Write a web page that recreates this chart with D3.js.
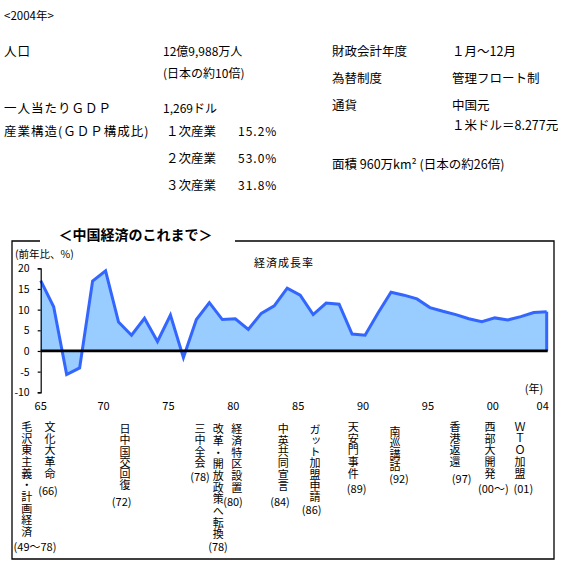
<!DOCTYPE html>
<html><head><meta charset="utf-8">
<script src="https://cdn.jsdelivr.net/npm/d3@7"></script>
<style>
body{margin:0;background:#fff;}
text{font-family:"Noto Sans CJK JP","Noto Sans",sans-serif;fill:#000;}
.vt{writing-mode:vertical-rl;text-orientation:upright;}
</style></head><body>
<svg id="c" width="579" height="573"></svg>
<script>
// ---- data ----
const years = [1965,1966,1967,1968,1969,1970,1971,1972,1973,1974,1975,1976,1977,1978,1979,1980,1981,1982,1983,1984,
               1985,1986,1987,1988,1989,1990,1991,1992,1993,1994,1995,1996,1997,1998,1999,2000,2001,2002,2003,2004];
const growth = [17.0,10.7,-5.7,-4.1,16.9,19.4,7.0,3.8,7.9,2.3,8.7,-1.6,7.6,11.7,7.6,7.8,5.2,9.1,10.9,15.2,
                13.5,8.8,11.6,11.3,4.1,3.8,9.2,14.2,13.5,12.6,10.5,9.6,8.8,7.8,7.1,8.0,7.5,8.3,9.3,9.5];
const yTicks = [-10,-5,0,5,10,15,20];
const xTickYears = [1965,1970,1975,1980,1985,1990,1995,2000,2004];
const xTickLabels = ["65","70","75","80","85","90","95","00","04"];

const events = ["毛沢東主義・計画経済","文化大革命","日中国交回復","三中全会","改革・開放政策へ転換","経済特区設置",
                "中英共同宣言","ガット加盟申請","天安門事件","南巡講話","香港返還","西部大開発","ＷＴＯ加盟"];
const eventDates = ["(49～78)","(66)","(72)","(78)","(78)","(80)","(84)","(86)","(89)","(92)","(97)","(00～)","(01)"];

const leftFacts = [["人口","12億9,988万人"],["","(日本の約10倍)"],["一人当たりＧＤＰ","1,269ドル"],["産業構造(ＧＤＰ構成比)",""]];
const industries = ["１次産業","２次産業","３次産業"];
const industryShares = ["15.2%","53.0%","31.8%"];
const rightFacts = [["財政会計年度","１月～12月"],["為替制度","管理フロート制"],["通貨","中国元"],["","１米ドル＝8.277元"]];

// ---- layout ----
const svg = d3.select("#c");
svg.append("rect").attr("width",579).attr("height",573).attr("fill","#fff");

// top info
svg.append("text").attr("x",4).attr("y",15).attr("dominant-baseline","central").attr("font-size",11.5).text("<2004年>");
const leftY = [50,72,107,130];
leftFacts.forEach((r,i)=>{
  if(r[0]) svg.append("text").attr("x",4).attr("y",leftY[i]).attr("dominant-baseline","central").attr("font-size",12.5).attr("letter-spacing",1).text(r[0]);
  if(r[1]) svg.append("text").attr("x",163).attr("y",leftY[i]).attr("dominant-baseline","central").attr("font-size",12).text(r[1]);
});
const indY = [130,157,184];
industries.forEach((t,i)=>{
  svg.append("text").attr("x",166).attr("y",indY[i]).attr("dominant-baseline","central").attr("font-size",12.5).text(t);
  svg.append("text").attr("x",238).attr("y",indY[i]).attr("dominant-baseline","central").attr("font-size",12).attr("letter-spacing",1).text(industryShares[i]);
});
const rightY = [50,77,104,124];
rightFacts.forEach((r,i)=>{
  if(r[0]) svg.append("text").attr("x",332).attr("y",rightY[i]).attr("dominant-baseline","central").attr("font-size",12.5).text(r[0]);
  svg.append("text").attr("x",452).attr("y",rightY[i]).attr("dominant-baseline","central").attr("font-size",12.5).text(r[1]);
});
svg.append("text").attr("x",332).attr("y",163).attr("dominant-baseline","central").attr("font-size",12.5)
  .text("面積 960万km² (日本の約26倍)");

// frame
const frameL=12, frameR=554, frameT=241, frameB=559;
const fr = svg.append("g").attr("stroke","#000").attr("stroke-width",1.3).attr("fill","none");
fr.append("path").attr("d",`M${frameL+28},${frameT}H${frameL}V${frameB}H${frameR}V${frameT}H235`);
svg.append("text").attr("x",135.5).attr("y",234).attr("text-anchor","middle").attr("dominant-baseline","central")
  .attr("font-size",14).attr("font-weight","bold").text("＜中国経済のこれまで＞");

// scales
const x = d3.scaleLinear().domain([1965,2004]).range([40.7,546.7]);
const y = d3.scaleLinear().domain([-10,20]).range([392.3,268.3]);

// area + line
svg.append("path").datum(growth)
  .attr("d", d3.area().x((d,i)=>x(years[i])).y0(y(0)).y1(d=>y(d)))
  .attr("fill","#99ccff");
svg.append("path").datum(growth)
  .attr("d", d3.line().x((d,i)=>x(years[i])).y(d=>y(d)))
  .attr("fill","none").attr("stroke","#3366ff").attr("stroke-width",3).attr("stroke-linejoin","miter");
svg.append("line").attr("x1",x(years[years.length-1])).attr("x2",x(years[years.length-1]))
  .attr("y1",y(growth[growth.length-1])).attr("y2",y(0)).attr("stroke","#3366ff").attr("stroke-width",3);

// zero line
svg.append("line").attr("x1",x(1965)).attr("x2",x(2004)+1).attr("y1",y(0)).attr("y2",y(0))
  .attr("stroke","#000").attr("stroke-width",2.7);

// y axis
const ya = svg.append("g").attr("transform",`translate(${x(1965)},0)`)
  .call(d3.axisLeft(y).tickValues(yTicks).tickSize(3).tickPadding(8).tickFormat(d=>d));
ya.select(".domain").attr("stroke","#000").attr("stroke-width",1.2);
ya.selectAll(".tick line").attr("stroke","#000").attr("stroke-width",1.2);
ya.selectAll("text").attr("font-size",10.5).attr("font-family","'Noto Sans CJK JP',sans-serif");

// x labels
svg.append("g").selectAll("text").data(xTickYears).join("text")
  .attr("x",(d,i)=>x(d)-(i===0||i===xTickYears.length-1?0:2)-(i===xTickYears.length-1?4:0))
  .attr("y",405).attr("text-anchor","middle").attr("dominant-baseline","central").attr("font-size",11)
  .text((d,i)=>xTickLabels[i]);

svg.append("text").attr("x",15).attr("y",253).attr("dominant-baseline","central").attr("font-size",10.5).text("(前年比、%)");
svg.append("text").attr("x",284).attr("y",262).attr("text-anchor","middle").attr("dominant-baseline","central").attr("font-size",11).attr("letter-spacing",1).text("経済成長率");
svg.append("text").attr("x",534).attr("y",388).attr("text-anchor","middle").attr("dominant-baseline","central").attr("font-size",11).text("(年)");

// event annotations (vertical text)
const colX  = [26.7,50,125,200,218.3,236.7,283.3,315,353.3,395,455,490,520];
const colY0 = [426.7,426.7,429,429,429,429,429,430,426.7,431.7,426.7,426.7,426.7];
const colStep = [11.7,11.7,11.2,11.2,11.7,11.7,11.4,11.1,11.7,11.4,11.7,11.7,11.7];
const dateX = [35,48,121.7,200,218,233,280,311.7,356.7,399,461.7,493.3,523.3];
const dateY = [546,490,500.7,476,546,500.7,500.7,509,487.7,478.3,477.7,488.3,488.3];
const fs = 11;
events.forEach((ev,i)=>{
  svg.append("text").attr("class","vt").attr("x",colX[i]).attr("y",colY0[i]-fs/2)
    .attr("font-size",fs).style("letter-spacing",(colStep[i]-fs)+"px").text(ev);
  svg.append("text").attr("x",dateX[i]).attr("y",dateY[i]).attr("text-anchor","middle")
    .attr("dominant-baseline","central").attr("font-size",11).text(eventDates[i]);
});
</script>
</body></html>
